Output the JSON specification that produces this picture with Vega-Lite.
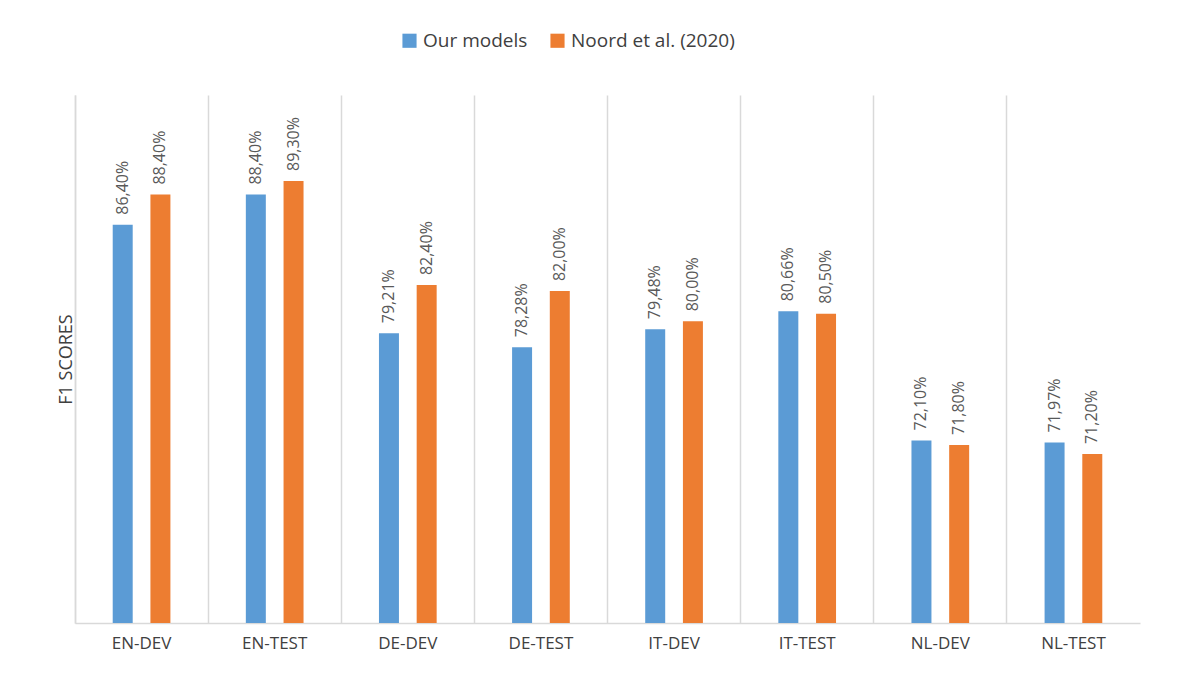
{
  "$schema": "https://vega.github.io/schema/vega-lite/v6.json",
  "width": 1065,
  "height": 528,
  "autosize": "none",
  "padding": {"left": 75, "top": 95, "right": 45, "bottom": 67},
  "background": "white",
  "data": {
    "values": [
      {"set": "EN-DEV", "model": "Our models", "f1": 86.40},
      {"set": "EN-DEV", "model": "Noord et al. (2020)", "f1": 88.40},
      {"set": "EN-TEST", "model": "Our models", "f1": 88.40},
      {"set": "EN-TEST", "model": "Noord et al. (2020)", "f1": 89.30},
      {"set": "DE-DEV", "model": "Our models", "f1": 79.21},
      {"set": "DE-DEV", "model": "Noord et al. (2020)", "f1": 82.40},
      {"set": "DE-TEST", "model": "Our models", "f1": 78.28},
      {"set": "DE-TEST", "model": "Noord et al. (2020)", "f1": 82.00},
      {"set": "IT-DEV", "model": "Our models", "f1": 79.48},
      {"set": "IT-DEV", "model": "Noord et al. (2020)", "f1": 80.00},
      {"set": "IT-TEST", "model": "Our models", "f1": 80.66},
      {"set": "IT-TEST", "model": "Noord et al. (2020)", "f1": 80.50},
      {"set": "NL-DEV", "model": "Our models", "f1": 72.10},
      {"set": "NL-DEV", "model": "Noord et al. (2020)", "f1": 71.80},
      {"set": "NL-TEST", "model": "Our models", "f1": 71.97},
      {"set": "NL-TEST", "model": "Noord et al. (2020)", "f1": 71.20}
    ]
  },
  "transform": [
    {"calculate": "replace(format(datum.f1, '.2f'), '.', ',') + '%'", "as": "label"}
  ],
  "encoding": {
    "x": {
      "field": "set", "type": "nominal", "sort": null,
      "scale": {"paddingInner": 0, "paddingOuter": 0},
      "axis": {
        "title": null, "labelAngle": 0, "labelFontSize": 17, "labelColor": "#404040",
        "labelFont": "Open Sans", "labelPadding": 12, "ticks": false,
        "grid": true, "bandPosition": 0, "gridColor": "#d9d9d9", "gridWidth": 1.5,
        "domainColor": "#d9d9d9", "domainWidth": 1.5
      }
    },
    "xOffset": {
      "field": "model", "type": "nominal", "sort": null,
      "scale": {"paddingInner": 0.47, "paddingOuter": 1.19}
    },
    "y": {
      "field": "f1", "type": "quantitative",
      "scale": {"domain": [60, 95], "zero": false, "nice": false},
      "axis": {
        "title": "F1 SCORES", "titleFontSize": 18, "titleFontWeight": "normal",
        "titleColor": "#404040", "titleFont": "Open Sans", "titlePadding": 0,
        "labels": false, "ticks": false, "grid": false, "domainColor": "#d9d9d9", "domainWidth": 1.5
      }
    }
  },
  "layer": [
    {
      "mark": {"type": "bar"},
      "encoding": {
        "y2": {"datum": 60},
        "color": {
          "field": "model", "type": "nominal", "sort": null,
          "scale": {"domain": ["Our models", "Noord et al. (2020)"], "range": ["#5B9BD5", "#ED7D31"]},
          "legend": {
            "title": null, "orient": "none", "direction": "horizontal",
            "legendX": 325, "legendY": -64, "symbolType": "square", "symbolSize": 200,
            "labelFontSize": 19, "labelColor": "#404040", "labelFont": "Open Sans",
            "labelLimit": 400, "columnPadding": 20
          }
        }
      }
    },
    {
      "mark": {"type": "text", "angle": -90, "align": "left", "baseline": "middle", "dx": 10,
               "fontSize": 16, "color": "#595959", "font": "Open Sans"},
      "encoding": {"text": {"field": "label"}}
    }
  ],
  "config": {"view": {"stroke": null}}
}
